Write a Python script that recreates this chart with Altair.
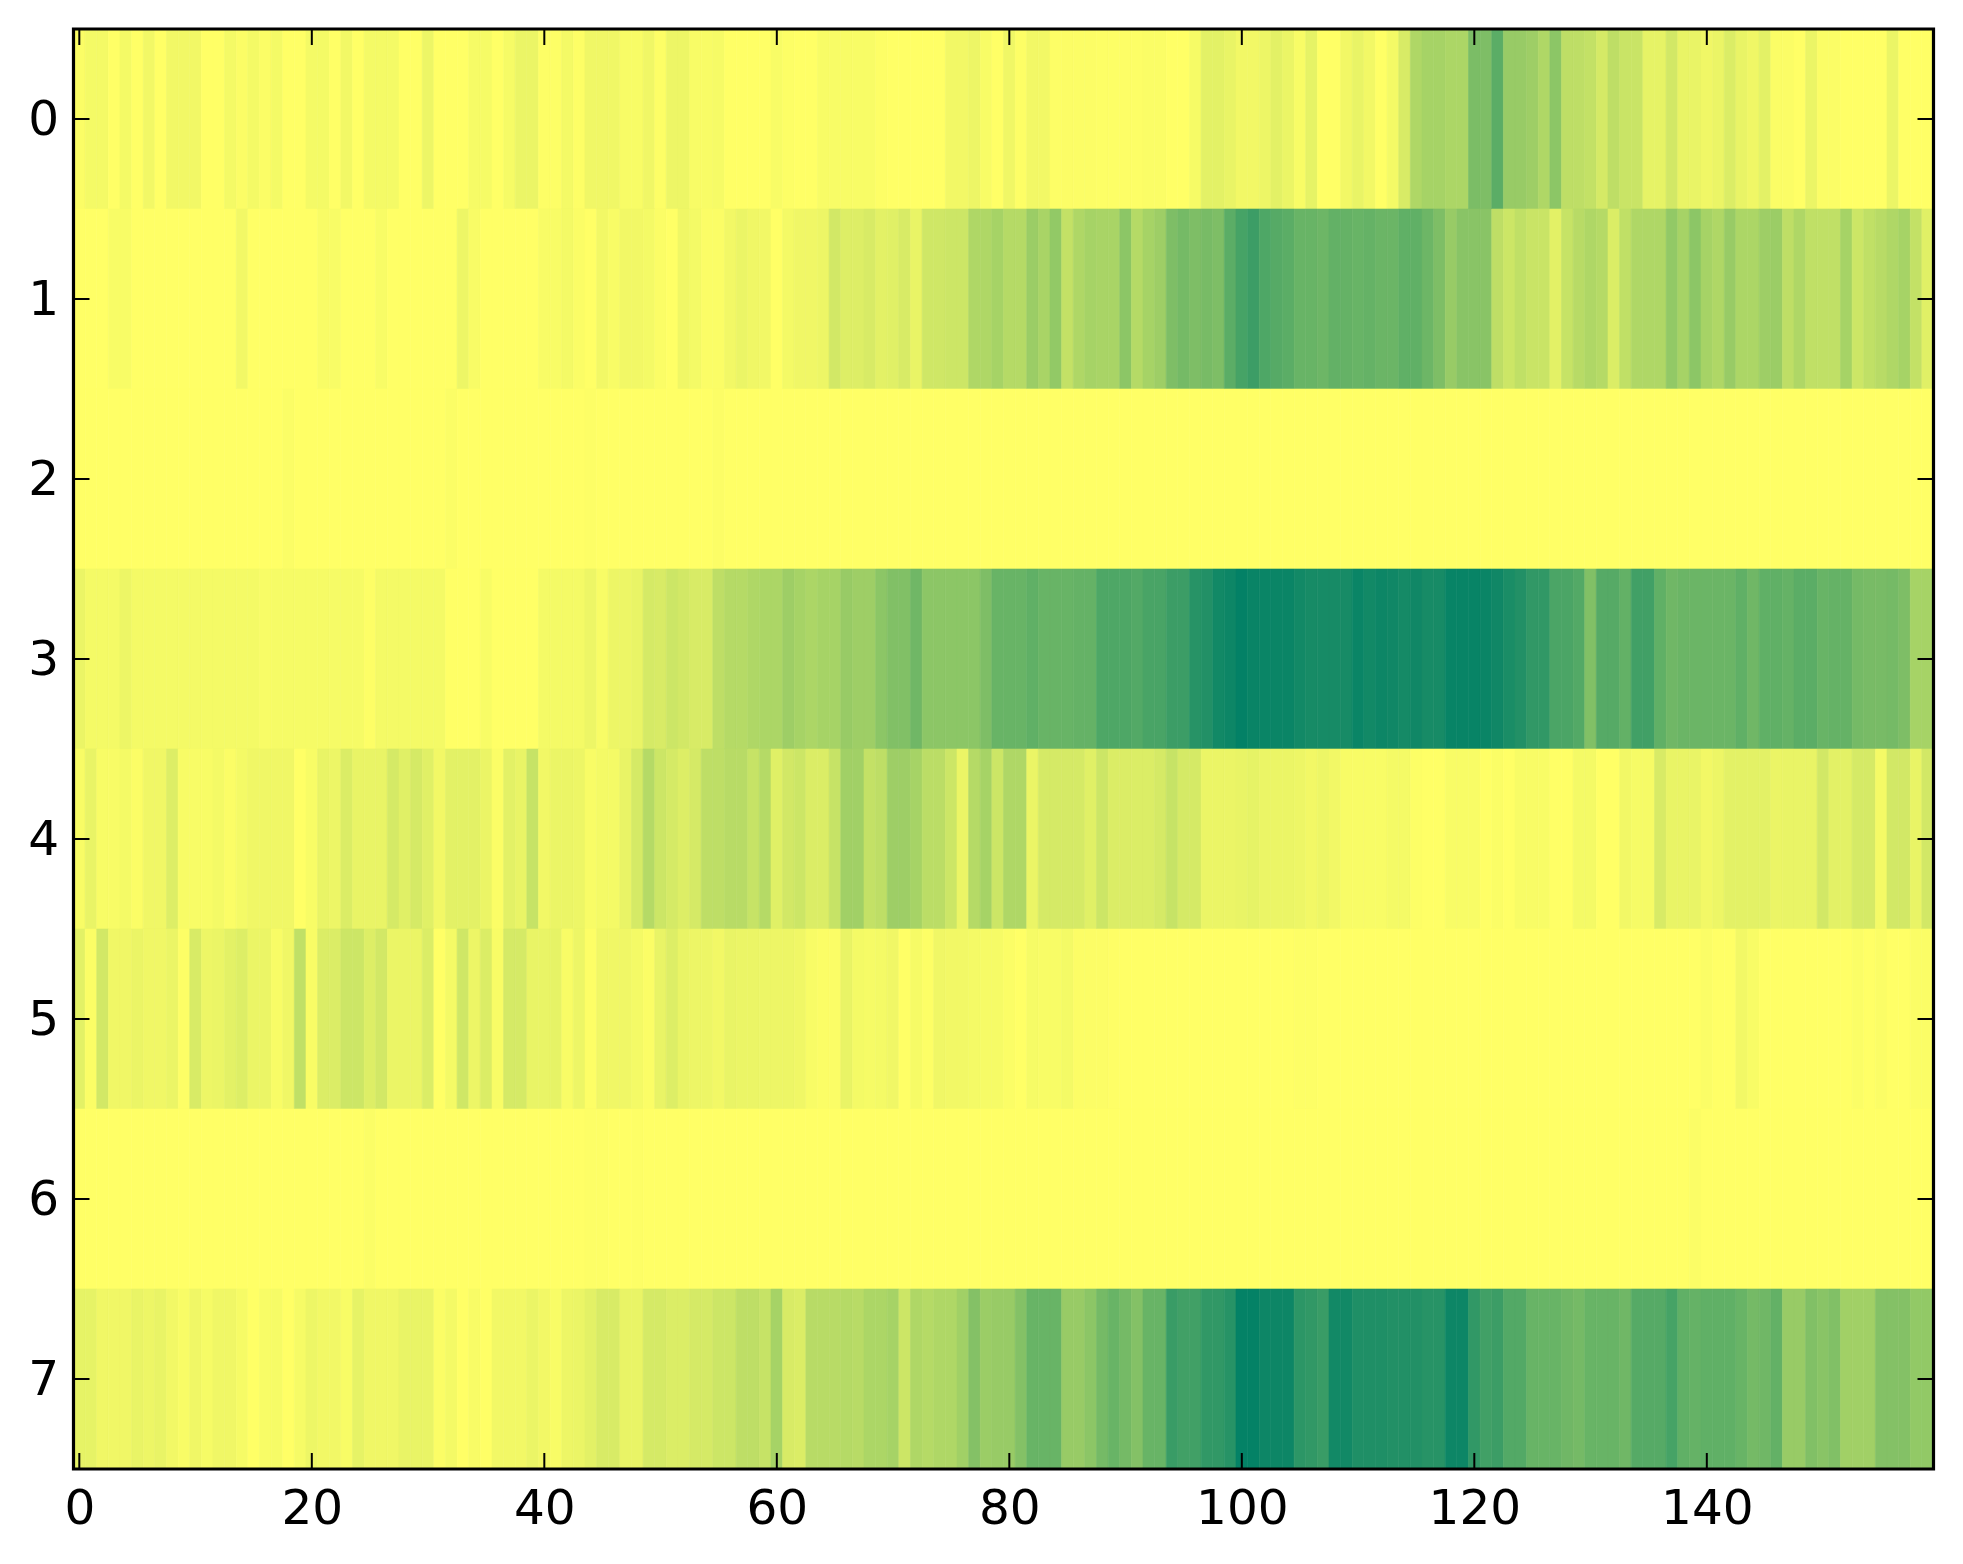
import altair as alt
import pandas as pd

row0 = [.02,.05,.05,0,.05,0,.06,0,.06,.06,
        .06,0,0,.05,.02,.05,.02,.05,0,0,
        .05,.05,0,.06,0,.05,.05,.05,0,0,
        .08,0,0,0,.04,.04,0,.04,.09,.09,
        .01,.01,.05,.01,.07,.07,.07,.03,.03,.07,
        .01,.08,.08,.03,.03,.04,0,0,0,0,
        .03,.01,0,0,.03,.03,.03,.03,.03,.01,
        0,0,0,0,0,.06,.06,.08,.03,0,
        .07,.01,.06,.06,.01,.015,.015,.015,.01,.01,
        .01,.01,.02,.02,0,0,.04,.12,.12,.1,
        .06,.06,.08,.12,.09,.03,.11,0,0,.06,
        .1,.06,0,.05,.16,.3,.33,.33,.31,.31,
        .48,.47,.6,.38,.38,.36,.3,.42,.25,.25,
        .23,.17,.25,.21,.21,.11,.11,.18,.1,.1,
        .07,.09,.15,.1,.07,.12,.02,.02,0,.09,
        .02,.02,0,0,0,0,.09,0,0,0]
row1 = [0,0,0,.03,.03,0,0,0,0,0,
        0,0,0,0,.06,0,0,0,0,0,
        0,.03,.03,0,0,0,.03,0,0,0,
        0,0,0,.08,.03,0,0,0,0,0,
        .03,.03,.05,.02,0,.06,.03,.06,.06,.05,
        .02,0,.07,.05,.02,.02,.06,.09,.07,.06,
        0,.05,.07,.07,.08,.18,.14,.14,.16,.12,
        .13,.16,.1,.19,.19,.2,.2,.3,.3,.33,
        .28,.28,.37,.32,.4,.23,.3,.33,.32,.32,
        .42,.28,.33,.36,.47,.5,.47,.49,.47,.6,
        .68,.72,.65,.62,.6,.55,.55,.53,.57,.56,
        .55,.56,.54,.54,.58,.58,.53,.47,.38,.43,
        .43,.43,.25,.2,.24,.21,.21,.12,.22,.27,
        .3,.28,.15,.24,.3,.3,.3,.4,.33,.42,
        .33,.3,.38,.31,.31,.36,.37,.25,.3,.24,
        .24,.24,.33,.2,.24,.27,.3,.33,.23,.13]
row2 = [0,0,0,0,0,0,0,0,0,0,
        0,0,0,0,0,0,0,0,.02,0,
        0,0,0,0,0,0,0,0,0,0,
        0,0,.02,0,0,0,0,0,0,0,
        0,0,0,0,.01,0,0,0,0,0,
        0,0,0,0,0,.015,0,0,0,0,
        0,0,0,0,0,0,0,0,0,0,
        0,0,0,0,0,0,0,0,0,0,
        0,0,0,0,0,0,0,0,0,0,
        0,0,0,0,0,0,0,0,0,0,
        0,0,0,0,0,0,0,0,0,0,
        0,0,0,0,0,0,0,0,0,0,
        0,0,0,0,0,0,0,0,0,0,
        0,0,0,0,0,0,0,0,0,0,
        0,0,0,0,0,0,0,0,0,0,
        0,0,0,0,0,0,0,0,0,0]
row3 = [.09,.05,.05,.05,.08,.05,.05,.05,.05,.05,
        .05,.05,.05,.05,.05,.05,.03,.04,.04,.04,
        .04,.04,.04,.04,.04,.01,.05,.05,.05,.05,
        .05,.05,0,0,0,.03,0,0,0,0,
        .05,.05,.05,.05,.08,.03,.08,.08,.1,.17,
        .16,.2,.18,.16,.16,.25,.28,.28,.3,.31,
        .31,.36,.33,.31,.33,.33,.38,.36,.36,.42,
        .46,.46,.52,.42,.42,.42,.42,.42,.47,.55,
        .55,.55,.58,.55,.55,.55,.56,.56,.65,.65,
        .65,.63,.67,.67,.72,.72,.8,.82,.88,.9,
        .98,.93,.92,.92,.92,.88,.86,.86,.86,.86,
        .92,.88,.9,.89,.87,.89,.86,.86,.94,.94,
        .94,.92,.89,.85,.82,.76,.76,.66,.66,.63,
        .46,.62,.62,.57,.7,.7,.58,.52,.54,.54,
        .54,.54,.54,.58,.52,.58,.58,.56,.6,.6,
        .55,.56,.56,.5,.49,.49,.5,.47,.33,.33]
row4 = [.03,.1,.03,.03,.05,.02,.07,.07,.14,.03,
        .03,.03,.05,.02,.05,.07,.07,.07,.07,0,
        .03,.1,.08,.15,.1,.1,.1,.17,.13,.17,
        .13,.06,.12,.12,.12,.09,.02,.12,.1,.22,
        .06,.09,.09,.08,.03,.05,.05,.1,.17,.28,
        .2,.17,.14,.17,.25,.25,.27,.27,.22,.28,
        .13,.18,.2,.15,.15,.22,.35,.35,.23,.25,
        .36,.36,.33,.26,.26,.2,.09,.28,.33,.2,
        .3,.3,.09,.17,.17,.17,.17,.13,.2,.15,
        .15,.15,.15,.17,.22,.17,.17,.09,.09,.09,
        .1,.11,.09,.09,.09,.08,.06,.08,.06,.03,
        .03,.03,.03,.05,.05,.01,0,0,.03,.03,
        .03,0,.02,0,.03,.03,.03,0,0,.05,
        .05,0,0,.06,.04,.04,.16,.1,.1,.1,
        .06,.08,.12,.12,.12,.12,.09,.1,.1,.1,
        .18,.12,.12,.17,.17,.05,.18,.18,.1,.18]
row5 = [.12,.02,.18,.07,.07,.09,.07,.07,.09,.01,
        .16,.08,.09,.12,.14,.09,.09,.03,.07,.24,
        .03,.15,.15,.2,.2,.14,.18,.09,.09,.09,
        .15,0,.05,.19,.08,.15,.03,.17,.17,.1,
        .1,.11,.03,.08,.01,.07,.07,.07,.05,.02,
        .1,.14,.1,.08,.08,.06,.1,.09,.09,.08,
        .08,.08,.07,.03,.02,.02,.1,.05,.04,.05,
        .07,0,.04,.01,.07,.06,.06,.05,.04,.04,
        .02,0,.04,.03,.03,.05,.015,.015,.015,.005,
        0,0,0,0,0,0,0,0,0,0,
        0,0,0,0,0,.01,.01,0,0,0,
        0,0,0,0,0,0,0,0,0,0,
        0,0,0,0,0,0,0,0,0,0,
        0,0,0,0,0,0,0,0,0,0,
        .02,0,0,.06,.03,0,0,0,0,0,
        0,0,0,.02,0,.02,0,0,.02,.02]
row6 = [0,0,0,0,0,0,0,0,0,0,
        0,0,0,0,0,0,0,0,0,0,
        0,0,0,0,0,.02,0,0,0,0,
        0,0,0,0,0,0,0,0,0,0,
        0,0,0,0,.01,.01,0,0,.01,0,
        0,0,0,0,0,0,0,0,0,0,
        0,0,0,0,0,0,0,0,0,0,
        0,0,0,0,0,0,0,0,0,0,
        0,0,0,0,0,0,0,0,0,0,
        0,0,0,0,0,0,0,0,0,0,
        0,0,0,0,0,0,0,0,0,0,
        0,0,0,0,0,0,0,0,0,0,
        0,0,0,0,0,0,0,0,0,0,
        0,0,0,0,0,0,0,0,0,.02,
        0,0,0,0,0,0,0,0,0,0,
        0,0,0,0,0,0,0,0,0,0]
row7 = [.11,.11,.07,.07,.07,.1,.08,.1,.06,.03,
        .07,.04,.07,.07,.04,0,.03,.04,0,.04,
        .08,.06,.06,.03,.11,.07,.07,.07,.1,.1,
        .1,.02,.05,0,.03,0,.06,.06,.06,.09,
        .06,.03,.08,.09,.12,.16,.16,.1,.1,.17,
        .17,.15,.15,.17,.17,.2,.2,.25,.25,.22,
        .33,.16,.15,.27,.27,.27,.28,.27,.31,.31,
        .33,.2,.3,.28,.3,.3,.35,.45,.37,.38,
        .38,.45,.55,.55,.55,.38,.38,.42,.5,.55,
        .5,.45,.55,.55,.73,.7,.7,.76,.76,.8,
        .97,.97,.9,.9,.9,.78,.76,.73,.88,.88,
        .83,.83,.83,.82,.82,.82,.8,.8,.9,.9,
        .76,.7,.72,.63,.63,.55,.55,.55,.52,.5,
        .55,.55,.55,.52,.62,.62,.62,.68,.58,.56,
        .58,.58,.58,.55,.5,.52,.57,.38,.38,.46,
        .43,.46,.35,.35,.35,.45,.45,.45,.4,.4]

rows = [row0, row1, row2, row3, row4, row5, row6, row7]
x_ticks = [0, 20, 40, 60, 80, 100, 120, 140]
y_ticks = [0, 1, 2, 3, 4, 5, 6, 7]

W, H = 1860, 1440
FONT = "DejaVu Sans"

records = []
for r, values in enumerate(rows):
    assert len(values) == 160, (r, len(values))
    for c, v in enumerate(values):
        records.append({"x0": c - 0.5, "x1": c + 0.5, "y0": r - 0.5, "y1": r + 0.5, "v": v})
cells = pd.DataFrame(records)

xscale = alt.Scale(domain=[-0.5, 159.5], nice=False, zero=False)
yscale = alt.Scale(domain=[7.5, -0.5], nice=False, zero=False)
cscale = alt.Scale(domain=[0, 0.1, 0.5, 0.9, 1],
                   range=["#ffff66", "#e9f466", "#75ba66", "#0d8666", "#008066"],
                   interpolate="rgb")

heat = alt.Chart(cells).mark_rect(strokeWidth=0.6).encode(
    x=alt.X("x0:Q", scale=xscale, title=None,
            axis=alt.Axis(values=x_ticks, ticks=False, domain=False, grid=False,
                          labelFont=FONT, labelFontSize=48.5, labelColor="black",
                          labelPadding=16, labelFlush=False, labelOverlap=False, format="d")),
    x2="x1:Q",
    y=alt.Y("y0:Q", scale=yscale, title=None,
            axis=alt.Axis(values=y_ticks, ticks=False, domain=False, grid=False,
                          labelFont=FONT, labelFontSize=48.5, labelColor="black",
                          labelPadding=15, labelFlush=False, labelOverlap=False, format="d")),
    y2="y1:Q",
    color=alt.Color("v:Q", scale=cscale, legend=None),
    stroke=alt.Stroke("v:Q", scale=cscale, legend=None),
)

xdf = pd.DataFrame({"t": x_ticks})
ydf = pd.DataFrame({"t": y_ticks})
tick_style = dict(color="black", strokeWidth=2)

x_bottom = alt.Chart(xdf).mark_rule(**tick_style).encode(
    x=alt.X("t:Q", scale=xscale), y=alt.value(H - 16), y2=alt.value(H))
x_top = alt.Chart(xdf).mark_rule(**tick_style).encode(
    x=alt.X("t:Q", scale=xscale), y=alt.value(0), y2=alt.value(16))
y_left = alt.Chart(ydf).mark_rule(**tick_style).encode(
    y=alt.Y("t:Q", scale=yscale), x=alt.value(0), x2=alt.value(16))
y_right = alt.Chart(ydf).mark_rule(**tick_style).encode(
    y=alt.Y("t:Q", scale=yscale), x=alt.value(W - 16), x2=alt.value(W))

frame = alt.Chart(pd.DataFrame({"a": [0]})).mark_rect(
    filled=False, stroke="black", strokeWidth=3.2
).encode(x=alt.value(0), x2=alt.value(W), y=alt.value(0), y2=alt.value(H))

chart = alt.layer(heat, x_bottom, x_top, y_left, y_right, frame).properties(
    width=W, height=H,
    autosize=alt.AutoSizeParams(type="none"),
    padding={"left": 65.5, "top": 21, "right": 20, "bottom": 80},
).configure_view(stroke=None).configure(background="white")

chart.save("out.html", embed_options={"renderer": "svg", "actions": False})
